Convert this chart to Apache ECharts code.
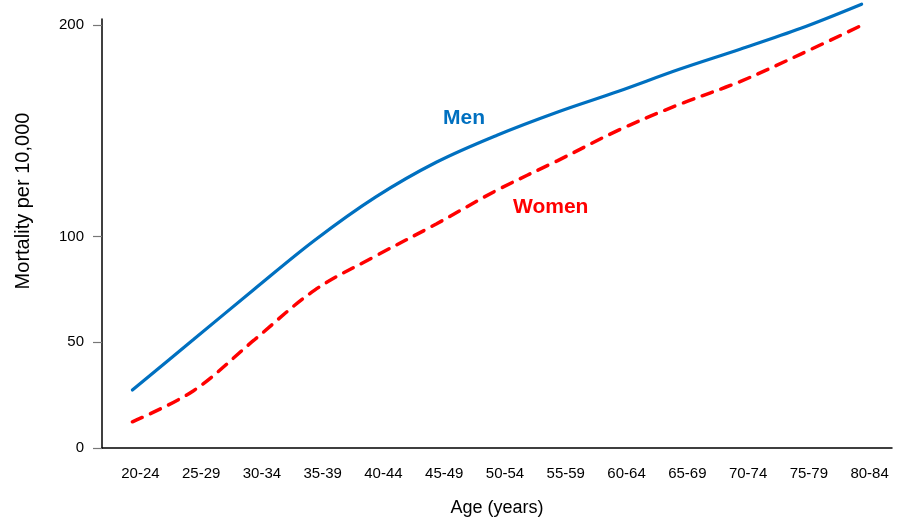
<!DOCTYPE html>
<html>
<head>
<meta charset="utf-8">
<script src="https://cdn.jsdelivr.net/npm/echarts@6/dist/echarts.min.js"></script>
<style>
html,body{margin:0;padding:0;background:#fff;}
#chart{width:901px;height:517px;}
</style>
</head>
<body>
<div id="chart"></div>
<script>
var categories = ['20-24','25-29','30-34','35-39','40-44','45-49','50-54','55-59','60-64','65-69','70-74','75-79','80-84'];
var menValues = [27.4, 51.2, 75, 98.3, 118.7, 135.2, 148, 159, 168.8, 179.2, 188.7, 198.6, 210];
var womenValues = [12.4, 27, 51, 74.7, 90.8, 106, 122, 136, 150.4, 162.6, 173.4, 186.4, 200];
var yTickValues = [0, 50, 100, 200];

var labelFont = '"Liberation Sans", sans-serif';
var chart = echarts.init(document.getElementById('chart'), null, {renderer: 'canvas'});
chart.setOption({
  animation: false,
  backgroundColor: '#fff',
  grid: {left: 102, right: 9, top: 19, bottom: 69, containLabel: false, outerBoundsMode: 'none'},
  xAxis: {
    type: 'category',
    data: categories,
    boundaryGap: true,
    name: 'Age (years)',
    nameLocation: 'middle',
    nameGap: 51,
    nameTextStyle: {fontFamily: labelFont, fontSize: 18, color: '#000'},
    axisLine: {lineStyle: {color: '#000', width: 1.5}},
    axisTick: {show: false},
    axisLabel: {fontFamily: labelFont, fontSize: 15, color: '#000', margin: 18, padding: [0, 0, 0, 16], interval: 0},
    splitLine: {show: false}
  },
  yAxis: {
    type: 'value',
    min: 0,
    max: 203,
    name: 'Mortality per 10,000',
    nameLocation: 'middle',
    nameGap: 69,
    nameTextStyle: {fontFamily: labelFont, fontSize: 20, color: '#000', padding: [0, 0, 0, 65]},
    axisLine: {show: true, lineStyle: {color: '#000', width: 1.5}},
    axisTick: {show: true, length: 9, customValues: yTickValues, lineStyle: {color: '#777', width: 1.2}},
    axisLabel: {fontFamily: labelFont, fontSize: 15, color: '#000', margin: 18, customValues: yTickValues},
    splitLine: {show: false}
  },
  series: [
    {
      name: 'Men',
      type: 'line',
      data: menValues,
      smooth: 0.35,
      clip: false,
      symbol: 'none',
      lineStyle: {color: '#0070C0', width: 3.2, cap: 'round'}
    },
    {
      name: 'Women',
      type: 'line',
      data: womenValues,
      smooth: 0.35,
      clip: false,
      symbol: 'none',
      lineStyle: {color: '#FF0000', width: 3.5, type: [11, 9], cap: 'round'}
    }
  ],
  graphic: [
    {type: 'text', left: 443, top: 108, style: {text: 'Men', fill: '#0070C0', font: 'bold 21px "Liberation Sans", sans-serif'}},
    {type: 'text', left: 513, top: 197, style: {text: 'Women', fill: '#FF0000', font: 'bold 21px "Liberation Sans", sans-serif'}}
  ]
});
</script>
</body>
</html>
